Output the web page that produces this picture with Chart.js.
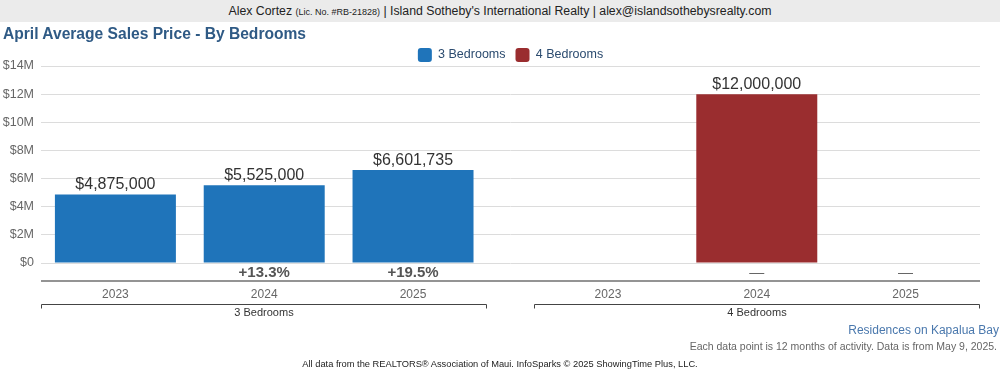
<!DOCTYPE html>
<html>
<head>
<meta charset="utf-8">
<script src="https://cdn.jsdelivr.net/npm/chart.js@4"></script>
<style>
  body { margin: 0; background: #fff; font-family: "Liberation Sans", Arial, sans-serif; }
  #wrap { position: relative; width: 1000px; height: 375px; overflow: hidden; }
  #sales-chart { position: absolute; left: 0; top: 0; }
  .header { position: absolute; left: 0; top: 0; width: 1000px; height: 22px; line-height: 22px;
    background: #ebebeb; text-align: center; font-size: 12.3px; color: #222; }
  .header small { font-size: 9px; }
  .title { position: absolute; left: 3px; top: 25px; font-size: 15.6px; font-weight: bold; color: #2f5a85; }
  .area { position: absolute; right: 1px; top: 323px; font-size: 12px; color: #4a78ad; }
  .note { position: absolute; right: 3px; top: 340px; font-size: 10.5px; color: #666; }
  .source { position: absolute; left: 0; width: 1000px; top: 359px; text-align: center; font-size: 9.3px; color: #222; }
</style>
</head>
<body>
<div id="wrap">
  <canvas id="sales-chart" width="1000" height="375"></canvas>
  <div class="header">Alex Cortez <small>(Lic. No. #RB-21828)</small> | Island Sotheby's International Realty | alex@islandsothebysrealty.com</div>
  <div class="title">April Average Sales Price - By Bedrooms</div>
  <div class="area">Residences on Kapalua Bay</div>
  <div class="note">Each data point is 12 months of activity. Data is from May 9, 2025.</div>
  <div class="source">All data from the REALTORS® Association of Maui. InfoSparks © 2025 ShowingTime Plus, LLC.</div>
</div>
<script>
const groups = ["3 Bedrooms", "4 Bedrooms"];
const years = ["2023", "2024", "2025"];
const threeBedrooms = [4875000, 5525000, 6601735];
const fourBedrooms = [null, 12000000, null];

const Config = {
  colors: {
    blue: "#1f74ba",
    red: "#9a2d2f",
    grid: "#dcdcdc",
    tick: "#666",
    text: "#333",
    legend: "#2b4b6f",
  },
  groupGap: 0.31, // space between the two bedroom groups, in slot widths
};

Chart.defaults.font.family = `"Liberation Sans", Arial, sans-serif`;

// slot position of a year inside a group on the linear x scale
const slot = (g, i) => g * (years.length + Config.groupGap) + i;
const toPoints = (g, values) => values.map((y, i) => ({ x: slot(g, i), y }));
const allSlots = groups.flatMap((_, g) => years.map((_, i) => slot(g, i)));

const money = (v) => "$" + Math.round(v).toLocaleString("en-US");

const labelsPlugin = {
  id: "labels",
  afterDatasetsDraw(chart) {
    const c = chart.ctx;
    const x = chart.scales.x;
    const area = chart.chartArea;
    c.save();

    // values above the bars
    c.font = "16px " + Chart.defaults.font.family;
    c.fillStyle = Config.colors.text;
    c.textAlign = "center";
    c.textBaseline = "bottom";
    chart.data.datasets.forEach((ds, d) => {
      chart.getDatasetMeta(d).data.forEach((bar, i) => {
        const v = ds.data[i].y;
        if (v == null) return;
        c.fillText(money(v), bar.x, bar.y - 2);
      });
    });

    // change vs previous year
    c.textBaseline = "middle";
    chart.data.datasets.forEach((ds) => {
      ds.data.forEach((p, i) => {
        if (i === 0) return;
        const prev = ds.data[i - 1].y;
        const px = x.getPixelForValue(p.x);
        if (p.y == null || prev == null) {
          c.font = "15px " + Chart.defaults.font.family;
          c.fillStyle = "#666";
          c.fillText("—", px, area.bottom + 10);
        } else {
          const pct = ((p.y - prev) / prev) * 100;
          c.font = "bold 15px " + Chart.defaults.font.family;
          c.fillStyle = "#555";
          c.fillText((pct >= 0 ? "+" : "") + pct.toFixed(1) + "%", px, area.bottom + 10);
        }
      });
    });

    // axis line under the change labels
    c.strokeStyle = "#707070";
    c.lineWidth = 1.5;
    c.beginPath();
    c.moveTo(area.left, area.bottom + 18);
    c.lineTo(area.right, area.bottom + 18);
    c.stroke();

    // group brackets and names
    c.strokeStyle = "#444";
    c.lineWidth = 1;
    c.font = "11px " + Chart.defaults.font.family;
    c.fillStyle = Config.colors.text;
    groups.forEach((name, g) => {
      const l = Math.round(x.getPixelForValue(slot(g, 0) - 0.5)) + 0.5;
      const r = Math.round(x.getPixelForValue(slot(g, years.length - 1) + 0.5)) - 0.5;
      const y = area.bottom + 41.5;
      c.beginPath();
      c.moveTo(l, y + 4);
      c.lineTo(l, y);
      c.lineTo(r, y);
      c.lineTo(r, y + 4);
      c.stroke();
      c.fillText(name, (l + r) / 2, area.bottom + 50);
    });
    c.restore();
  },
};

new Chart(document.getElementById("sales-chart"), {
  type: "bar",
  data: {
    datasets: [
      { label: groups[0], data: toPoints(0, threeBedrooms), backgroundColor: Config.colors.blue },
      { label: groups[1], data: toPoints(1, fourBedrooms), backgroundColor: Config.colors.red },
    ],
  },
  options: {
    responsive: false,
    animation: false,
    grouped: false,
    barPercentage: 0.813,
    categoryPercentage: 1,
    layout: { padding: { top: 38, right: 20, left: 0, bottom: 0 } },
    scales: {
      x: {
        type: "linear",
        offset: false,
        min: -0.5,
        max: slot(groups.length - 1, years.length - 1) + 0.5,
        grid: { display: false, drawTicks: false },
        border: { display: false },
        afterBuildTicks: (s) => { s.ticks = allSlots.map((value) => ({ value })); },
        afterFit: (s) => { s.height = 112; },
        ticks: {
          padding: 24,
          color: Config.colors.tick,
          font: { size: 12 },
          autoSkip: false,
          maxRotation: 0,
          callback: (v) => years[allSlots.findIndex((s) => Math.abs(s - v) < 1e-6) % years.length],
        },
      },
      y: {
        min: 0,
        max: 14000000,
        grid: { color: Config.colors.grid, drawTicks: false },
        border: { display: false },
        afterFit: (s) => { s.width = 41; },
        ticks: {
          stepSize: 2000000,
          padding: 7,
          color: Config.colors.tick,
          font: { size: 12.5 },
          callback: (v) => (v === 0 ? "$0" : "$" + v / 1000000 + "M"),
        },
      },
    },
    plugins: {
      legend: {
        fullSize: false,
        maxHeight: 28,
        labels: {
          boxWidth: 14,
          boxHeight: 14,
          useBorderRadius: true,
          borderRadius: 3,
          padding: 10,
          color: Config.colors.legend,
          font: { size: 12.5 },
        },
      },
      tooltip: { enabled: false },
    },
  },
  plugins: [labelsPlugin],
});
</script>
</body>
</html>
